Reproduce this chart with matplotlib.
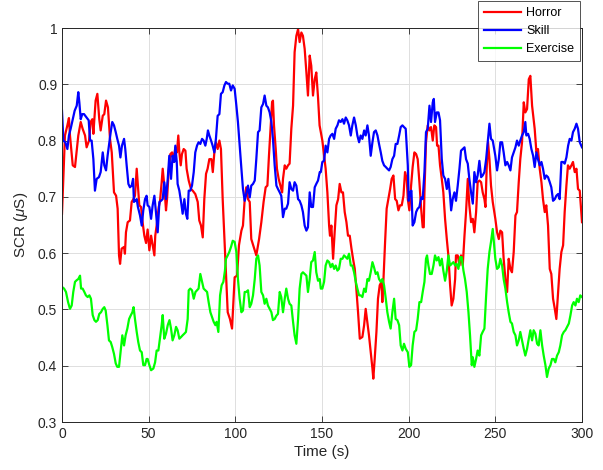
import numpy as np
import matplotlib
matplotlib.use("Agg")
import matplotlib.pyplot as plt

# (time s, SCR uS)
horror = [
    (0.0, 0.670), (1.2, 0.767), (1.7, 0.809), (3.1, 0.827), (4.0, 0.840), (4.6, 0.809), (6.2, 0.756),
    (7.5, 0.753), (9.4, 0.809), (10.8, 0.833), (11.9, 0.821), (13.3, 0.809), (14.2, 0.788), (15.6, 0.800),
    (16.5, 0.833), (17.5, 0.838), (18.1, 0.812), (19.4, 0.871), (20.4, 0.883), (21.5, 0.838), (22.3, 0.818),
    (23.5, 0.844), (24.4, 0.847), (25.4, 0.871), (26.5, 0.859), (27.7, 0.803), (28.7, 0.779), (30.0, 0.708),
    (31.2, 0.702), (32.1, 0.679), (32.9, 0.596), (33.5, 0.581), (34.4, 0.608), (35.8, 0.611), (36.3, 0.599),
    (36.9, 0.637), (37.9, 0.655), (39.2, 0.658), (40.2, 0.691), (41.2, 0.696), (42.1, 0.702), (43.1, 0.750),
    (43.8, 0.720), (44.6, 0.685), (45.6, 0.682), (46.5, 0.655), (47.5, 0.631), (48.5, 0.618), (49.4, 0.642),
    (50.4, 0.605), (51.4, 0.631), (52.3, 0.614), (53.3, 0.596), (53.8, 0.631), (54.6, 0.649), (55.8, 0.682),
    (56.5, 0.691), (57.5, 0.726), (58.1, 0.750), (59.0, 0.720), (60.0, 0.676), (60.6, 0.696), (61.5, 0.744),
    (62.5, 0.776), (63.5, 0.779), (64.2, 0.762), (65.4, 0.788), (66.3, 0.779), (67.1, 0.809), (67.7, 0.779),
    (68.5, 0.756), (69.2, 0.776), (70.2, 0.785), (71.2, 0.782), (71.9, 0.750), (73.1, 0.729), (74.4, 0.714),
    (75.4, 0.711), (76.9, 0.705), (78.3, 0.691), (79.2, 0.658), (80.2, 0.649), (81.2, 0.628), (82.1, 0.696),
    (83.1, 0.741), (84.0, 0.750), (85.0, 0.767), (86.2, 0.767), (87.0, 0.744), (87.9, 0.779), (88.8, 0.797),
    (89.8, 0.785), (90.8, 0.800), (91.7, 0.785), (92.7, 0.696), (94.2, 0.590), (95.6, 0.495), (96.9, 0.483),
    (98.1, 0.466), (99.6, 0.557), (101.0, 0.560), (102.1, 0.614), (103.5, 0.640), (104.4, 0.649), (105.4, 0.696),
    (106.3, 0.717), (107.3, 0.696), (108.3, 0.691), (109.2, 0.625), (110.6, 0.611), (112.1, 0.596), (113.7, 0.625),
    (115.0, 0.655), (116.3, 0.691), (117.5, 0.717), (118.5, 0.720), (119.4, 0.773), (120.4, 0.827), (121.2, 0.868),
    (121.7, 0.871), (122.3, 0.827), (123.3, 0.785), (124.0, 0.750), (125.0, 0.732), (126.0, 0.720), (127.0, 0.708),
    (127.5, 0.732), (128.5, 0.756), (129.4, 0.750), (130.4, 0.756), (131.3, 0.759), (132.3, 0.821), (133.3, 0.862),
    (134.2, 0.957), (135.2, 0.986), (136.2, 0.998), (137.1, 0.975), (138.1, 0.992), (139.0, 0.986), (140.0, 0.963),
    (141.0, 0.921), (141.9, 0.880), (142.9, 0.951), (143.8, 0.933), (144.8, 0.880), (145.8, 0.909), (146.7, 0.921),
    (147.7, 0.877), (148.6, 0.827), (149.3, 0.815), (150.2, 0.800), (151.2, 0.773), (152.1, 0.750), (153.1, 0.708),
    (154.1, 0.649), (154.6, 0.631), (155.4, 0.649), (156.4, 0.590), (157.3, 0.637), (158.3, 0.685), (159.3, 0.696),
    (160.2, 0.723), (161.2, 0.708), (162.1, 0.708), (163.1, 0.673), (164.1, 0.655), (165.0, 0.631), (166.0, 0.631),
    (167.0, 0.608), (167.9, 0.590), (168.9, 0.572), (169.8, 0.537), (170.8, 0.495), (171.8, 0.448), (173.3, 0.451),
    (174.3, 0.472), (175.2, 0.501), (176.2, 0.477), (177.1, 0.454), (178.1, 0.424), (179.1, 0.395), (179.6, 0.377),
    (180.4, 0.412), (181.4, 0.460), (182.3, 0.519), (183.3, 0.543), (184.3, 0.549), (184.8, 0.513), (185.4, 0.549),
    (186.4, 0.620), (187.3, 0.679), (188.3, 0.696), (189.3, 0.714), (190.2, 0.732), (191.2, 0.738), (192.2, 0.696),
    (193.1, 0.693), (194.1, 0.676), (195.0, 0.685), (196.0, 0.685), (197.0, 0.702), (197.9, 0.744), (198.9, 0.732),
    (199.5, 0.696), (200.4, 0.676), (201.4, 0.720), (202.3, 0.753), (203.3, 0.779), (204.3, 0.776), (205.2, 0.767),
    (206.2, 0.726), (207.2, 0.679), (208.1, 0.646), (208.7, 0.646), (209.1, 0.708), (210.0, 0.797), (211.0, 0.827),
    (212.0, 0.818), (212.9, 0.824), (213.9, 0.800), (214.8, 0.827), (215.8, 0.824), (216.4, 0.791), (217.2, 0.791),
    (218.1, 0.756), (219.1, 0.732), (220.0, 0.708), (221.0, 0.661), (222.0, 0.625), (222.9, 0.596), (223.9, 0.543),
    (224.8, 0.507), (225.8, 0.519), (226.8, 0.554), (227.3, 0.596), (228.3, 0.596), (229.3, 0.578), (230.2, 0.596),
    (231.2, 0.578), (232.2, 0.631), (233.1, 0.673), (234.1, 0.732), (235.0, 0.685), (236.0, 0.655), (237.0, 0.661),
    (237.9, 0.637), (238.9, 0.673), (239.8, 0.726), (240.8, 0.729), (241.8, 0.726), (242.7, 0.708), (243.7, 0.696),
    (244.3, 0.682), (245.0, 0.750), (245.8, 0.797), (246.6, 0.767), (247.5, 0.720), (248.5, 0.691), (250.0, 0.661),
    (251.0, 0.637), (252.0, 0.625), (252.9, 0.640), (253.9, 0.637), (254.8, 0.590), (255.8, 0.554), (256.8, 0.531),
    (257.7, 0.590), (258.7, 0.572), (259.6, 0.566), (260.6, 0.602), (261.6, 0.667), (262.5, 0.673), (263.5, 0.726),
    (264.4, 0.767), (265.4, 0.797), (266.4, 0.868), (267.3, 0.850), (268.3, 0.856), (269.3, 0.909), (270.2, 0.915),
    (271.2, 0.862), (272.1, 0.838), (272.7, 0.821), (273.7, 0.779), (274.6, 0.785), (275.6, 0.750), (276.6, 0.726),
    (277.5, 0.696), (278.5, 0.673), (279.4, 0.685), (280.4, 0.649), (281.4, 0.572), (282.3, 0.563), (283.3, 0.519),
    (284.3, 0.501), (285.2, 0.483), (286.2, 0.531), (287.1, 0.572), (288.1, 0.602), (289.1, 0.614), (290.0, 0.673),
    (291.0, 0.720), (291.9, 0.756), (292.9, 0.750), (293.9, 0.756), (294.8, 0.762), (295.8, 0.744), (296.8, 0.750),
    (297.7, 0.714), (298.7, 0.711), (300.0, 0.655),
]

skill = [
    (0.0, 0.853), (0.8, 0.800), (1.9, 0.797), (3.1, 0.785), (4.0, 0.809), (5.0, 0.821), (6.2, 0.838),
    (7.3, 0.853), (8.5, 0.862), (9.4, 0.886), (10.0, 0.868), (10.8, 0.838), (11.7, 0.847), (12.7, 0.847),
    (14.2, 0.841), (15.4, 0.836), (16.2, 0.800), (17.1, 0.800), (18.1, 0.767), (19.0, 0.711), (20.0, 0.732),
    (21.3, 0.735), (22.3, 0.744), (23.5, 0.779), (24.4, 0.756), (25.4, 0.747), (26.3, 0.773), (27.3, 0.797),
    (28.1, 0.815), (29.0, 0.833), (30.0, 0.827), (31.0, 0.815), (31.9, 0.803), (32.9, 0.791), (33.7, 0.770),
    (34.6, 0.791), (35.8, 0.803), (36.5, 0.785), (37.3, 0.756), (38.3, 0.723), (39.2, 0.717), (40.2, 0.720),
    (41.0, 0.732), (41.5, 0.691), (42.3, 0.693), (43.1, 0.696), (43.8, 0.682), (45.0, 0.667), (46.0, 0.649),
    (46.9, 0.676), (47.9, 0.696), (48.8, 0.702), (49.4, 0.685), (50.4, 0.682), (51.4, 0.661), (52.3, 0.685),
    (53.3, 0.702), (54.2, 0.673), (55.2, 0.637), (56.2, 0.691), (57.1, 0.693), (58.1, 0.696), (59.0, 0.726),
    (60.0, 0.696), (61.0, 0.732), (61.9, 0.773), (62.9, 0.732), (63.8, 0.773), (64.8, 0.762), (65.4, 0.791),
    (66.2, 0.762), (66.7, 0.723), (67.7, 0.711), (68.7, 0.691), (69.6, 0.670), (70.6, 0.696), (71.5, 0.670),
    (72.3, 0.661), (73.1, 0.711), (74.0, 0.711), (75.0, 0.720), (76.0, 0.744), (76.9, 0.779), (77.9, 0.791),
    (78.8, 0.797), (79.8, 0.794), (80.8, 0.803), (81.7, 0.800), (82.7, 0.791), (83.5, 0.803), (84.2, 0.818),
    (85.0, 0.809), (86.0, 0.800), (86.9, 0.791), (87.9, 0.779), (88.8, 0.803), (89.8, 0.844), (90.8, 0.847),
    (91.7, 0.883), (92.7, 0.886), (93.7, 0.898), (94.6, 0.904), (95.6, 0.901), (96.5, 0.901), (97.5, 0.889),
    (98.5, 0.898), (99.6, 0.892), (100.6, 0.862), (101.5, 0.833), (102.5, 0.791), (103.5, 0.750), (104.4, 0.714),
    (105.4, 0.693), (106.3, 0.705), (107.3, 0.720), (108.3, 0.699), (109.2, 0.720), (110.2, 0.723), (111.2, 0.729),
    (112.1, 0.767), (113.1, 0.815), (114.0, 0.818), (115.0, 0.859), (116.0, 0.865), (116.9, 0.880), (117.9, 0.862),
    (118.8, 0.859), (119.8, 0.850), (120.8, 0.833), (121.7, 0.803), (122.7, 0.756), (123.7, 0.720), (124.6, 0.714),
    (125.6, 0.708), (126.5, 0.702), (127.5, 0.664), (128.5, 0.679), (129.4, 0.679), (130.4, 0.688), (131.3, 0.726),
    (132.3, 0.714), (133.3, 0.711), (134.2, 0.726), (135.2, 0.720), (136.2, 0.696), (137.1, 0.693), (138.1, 0.685),
    (139.0, 0.673), (140.0, 0.649), (141.0, 0.640), (141.9, 0.646), (142.9, 0.708), (143.8, 0.682), (144.8, 0.682),
    (145.8, 0.717), (146.7, 0.723), (147.7, 0.729), (148.7, 0.744), (149.3, 0.744), (150.2, 0.762), (151.2, 0.764),
    (152.1, 0.791), (153.1, 0.779), (154.1, 0.803), (155.0, 0.809), (156.0, 0.812), (157.0, 0.803), (157.9, 0.821),
    (158.9, 0.827), (159.8, 0.836), (160.8, 0.833), (161.8, 0.838), (162.7, 0.830), (163.7, 0.841), (164.6, 0.836),
    (165.6, 0.827), (166.6, 0.809), (167.5, 0.827), (168.5, 0.841), (169.5, 0.827), (170.4, 0.809), (171.4, 0.797),
    (172.3, 0.809), (173.3, 0.803), (174.3, 0.818), (175.2, 0.809), (176.2, 0.827), (177.1, 0.809), (178.1, 0.773),
    (179.1, 0.797), (180.0, 0.815), (181.0, 0.818), (182.0, 0.809), (182.9, 0.794), (183.9, 0.779), (184.8, 0.764),
    (185.8, 0.756), (186.8, 0.753), (187.7, 0.750), (188.7, 0.747), (189.6, 0.753), (190.6, 0.767), (191.6, 0.773),
    (192.5, 0.794), (193.5, 0.794), (194.5, 0.809), (195.4, 0.824), (196.4, 0.827), (197.3, 0.824), (198.3, 0.821),
    (199.5, 0.756), (200.0, 0.693), (200.8, 0.708), (201.6, 0.711), (202.3, 0.649), (203.3, 0.655), (204.3, 0.673),
    (205.2, 0.679), (206.2, 0.682), (207.2, 0.699), (208.1, 0.696), (209.1, 0.744), (210.0, 0.815), (211.0, 0.821),
    (212.0, 0.862), (212.9, 0.833), (213.9, 0.868), (214.5, 0.874), (215.2, 0.833), (216.2, 0.850), (217.2, 0.850),
    (218.1, 0.836), (219.1, 0.767), (220.0, 0.738), (221.0, 0.732), (222.0, 0.714), (222.9, 0.732), (223.9, 0.702),
    (224.5, 0.676), (225.4, 0.696), (226.4, 0.708), (227.3, 0.693), (228.3, 0.720), (229.3, 0.750), (230.2, 0.782),
    (231.2, 0.785), (232.2, 0.788), (233.1, 0.767), (234.1, 0.759), (235.0, 0.732), (236.0, 0.708), (237.0, 0.688),
    (237.9, 0.744), (238.9, 0.726), (239.8, 0.738), (240.8, 0.764), (241.8, 0.735), (242.7, 0.738), (243.7, 0.744),
    (244.7, 0.767), (245.6, 0.797), (246.6, 0.830), (247.5, 0.803), (248.5, 0.800), (250.0, 0.773), (251.0, 0.747),
    (252.0, 0.767), (252.9, 0.797), (253.9, 0.797), (254.8, 0.779), (255.8, 0.756), (256.8, 0.762), (257.7, 0.756),
    (258.7, 0.747), (259.6, 0.770), (260.6, 0.779), (261.6, 0.788), (262.5, 0.800), (263.5, 0.791), (264.4, 0.800),
    (265.4, 0.809), (266.4, 0.815), (267.3, 0.833), (267.9, 0.809), (268.9, 0.812), (269.8, 0.803), (270.8, 0.785),
    (271.8, 0.773), (272.7, 0.753), (273.7, 0.779), (274.6, 0.767), (275.6, 0.756), (276.6, 0.762), (277.5, 0.750),
    (278.5, 0.732), (279.4, 0.738), (280.4, 0.735), (281.4, 0.726), (282.3, 0.717), (283.3, 0.693), (284.3, 0.696),
    (285.2, 0.702), (286.2, 0.705), (287.1, 0.696), (288.1, 0.762), (289.1, 0.762), (290.0, 0.759), (291.0, 0.770),
    (292.0, 0.791), (292.9, 0.803), (293.9, 0.800), (294.8, 0.815), (295.8, 0.821), (296.8, 0.830), (297.7, 0.821),
    (298.7, 0.797), (300.0, 0.788),
]

exercise = [
    (0.0, 0.540), (1.2, 0.537), (2.3, 0.531), (3.5, 0.513), (4.6, 0.501), (5.6, 0.507), (6.5, 0.531),
    (7.5, 0.549), (8.5, 0.552), (9.4, 0.554), (10.4, 0.560), (11.0, 0.537), (11.9, 0.537), (12.9, 0.531),
    (13.8, 0.525), (14.8, 0.522), (15.8, 0.525), (16.7, 0.519), (17.7, 0.490), (18.7, 0.481), (19.6, 0.478),
    (20.6, 0.481), (21.5, 0.492), (22.5, 0.495), (23.5, 0.501), (24.4, 0.504), (25.2, 0.498), (26.2, 0.472),
    (27.1, 0.445), (28.1, 0.442), (29.0, 0.433), (30.0, 0.421), (31.0, 0.404), (31.9, 0.398), (32.9, 0.398),
    (33.8, 0.424), (34.8, 0.454), (35.8, 0.436), (36.7, 0.454), (37.7, 0.466), (38.7, 0.483), (39.6, 0.489),
    (40.6, 0.495), (41.3, 0.504), (42.1, 0.483), (43.1, 0.460), (44.0, 0.442), (45.0, 0.427), (46.0, 0.424),
    (46.9, 0.401), (47.9, 0.401), (48.8, 0.412), (49.4, 0.412), (50.4, 0.401), (51.4, 0.392), (52.7, 0.395),
    (53.7, 0.406), (54.6, 0.427), (55.6, 0.427), (56.5, 0.448), (57.5, 0.472), (58.1, 0.490), (59.0, 0.448),
    (60.0, 0.457), (61.0, 0.472), (62.0, 0.481), (62.9, 0.466), (63.8, 0.445), (64.8, 0.454), (65.8, 0.469),
    (66.7, 0.463), (67.7, 0.448), (68.7, 0.451), (69.6, 0.454), (70.6, 0.457), (71.5, 0.460), (72.5, 0.483),
    (73.1, 0.534), (74.0, 0.537), (75.0, 0.534), (76.0, 0.519), (77.0, 0.531), (77.9, 0.534), (78.8, 0.537),
    (79.8, 0.563), (80.8, 0.549), (81.7, 0.537), (82.7, 0.534), (83.7, 0.531), (84.6, 0.513), (85.6, 0.495),
    (86.5, 0.487), (87.5, 0.478), (88.5, 0.472), (89.2, 0.478), (90.2, 0.460), (91.2, 0.525), (92.1, 0.543),
    (93.1, 0.549), (94.0, 0.569), (94.6, 0.590), (95.6, 0.596), (96.5, 0.602), (97.5, 0.611), (98.5, 0.622),
    (99.6, 0.620), (100.6, 0.602), (101.5, 0.554), (102.5, 0.519), (103.5, 0.495), (104.4, 0.498), (105.4, 0.531),
    (106.3, 0.531), (107.3, 0.534), (108.3, 0.504), (109.2, 0.510), (110.2, 0.525), (111.2, 0.554), (112.1, 0.590),
    (113.1, 0.596), (114.0, 0.578), (115.0, 0.531), (116.0, 0.525), (116.9, 0.510), (117.9, 0.519), (118.8, 0.507),
    (119.8, 0.501), (120.8, 0.495), (121.7, 0.481), (122.7, 0.483), (123.7, 0.489), (124.6, 0.492), (125.6, 0.531),
    (126.5, 0.522), (127.5, 0.495), (128.5, 0.519), (129.4, 0.537), (130.4, 0.519), (131.3, 0.510), (132.3, 0.507),
    (133.3, 0.478), (134.2, 0.454), (135.2, 0.439), (136.2, 0.483), (137.1, 0.537), (138.1, 0.563), (139.0, 0.566),
    (140.0, 0.563), (141.0, 0.560), (141.9, 0.531), (142.9, 0.554), (143.8, 0.584), (144.8, 0.587), (145.8, 0.602),
    (146.7, 0.566), (147.7, 0.551), (148.7, 0.554), (149.3, 0.537), (150.2, 0.537), (151.2, 0.549), (152.1, 0.578),
    (153.1, 0.587), (154.1, 0.584), (155.0, 0.575), (156.0, 0.581), (157.0, 0.572), (157.9, 0.578), (158.9, 0.569),
    (159.8, 0.572), (160.8, 0.590), (161.8, 0.590), (162.7, 0.596), (163.7, 0.593), (164.6, 0.590), (165.6, 0.599),
    (166.6, 0.578), (167.5, 0.578), (168.5, 0.566), (169.5, 0.549), (170.4, 0.537), (171.4, 0.525), (172.3, 0.525),
    (173.3, 0.522), (174.3, 0.537), (175.2, 0.531), (176.2, 0.554), (177.1, 0.551), (178.1, 0.566), (179.1, 0.584),
    (180.0, 0.575), (181.0, 0.563), (182.0, 0.566), (182.9, 0.554), (183.9, 0.549), (184.8, 0.554), (185.8, 0.543),
    (186.8, 0.519), (187.7, 0.495), (188.7, 0.478), (189.6, 0.466), (190.6, 0.495), (191.6, 0.519), (192.5, 0.483),
    (193.5, 0.481), (194.5, 0.472), (195.4, 0.436), (196.4, 0.427), (197.3, 0.439), (198.3, 0.430), (199.5, 0.424),
    (200.4, 0.398), (201.4, 0.401), (202.3, 0.436), (203.3, 0.460), (204.3, 0.463), (205.2, 0.483), (206.2, 0.513),
    (207.2, 0.513), (208.1, 0.531), (209.1, 0.549), (210.0, 0.590), (210.6, 0.596), (211.4, 0.578), (212.3, 0.563),
    (213.3, 0.563), (214.3, 0.578), (215.2, 0.596), (216.2, 0.587), (217.2, 0.593), (218.1, 0.578), (219.1, 0.590),
    (220.0, 0.569), (221.0, 0.551), (222.0, 0.569), (222.9, 0.596), (223.9, 0.578), (224.8, 0.581), (225.8, 0.584),
    (226.8, 0.578), (227.7, 0.581), (228.7, 0.572), (229.7, 0.593), (230.6, 0.593), (231.6, 0.569), (232.5, 0.554),
    (233.5, 0.531), (234.5, 0.495), (235.4, 0.454), (236.4, 0.401), (237.0, 0.415), (237.9, 0.398), (238.9, 0.412),
    (239.8, 0.427), (240.8, 0.418), (241.8, 0.454), (242.7, 0.460), (243.7, 0.466), (244.7, 0.525), (245.6, 0.572),
    (246.6, 0.602), (247.5, 0.620), (248.5, 0.643), (250.0, 0.590), (251.0, 0.572), (252.0, 0.575), (252.9, 0.590),
    (253.9, 0.578), (254.8, 0.554), (255.8, 0.537), (256.8, 0.513), (257.7, 0.495), (258.7, 0.478), (259.6, 0.475),
    (260.6, 0.460), (261.6, 0.454), (262.5, 0.436), (263.5, 0.445), (264.4, 0.460), (265.4, 0.445), (266.4, 0.430),
    (267.3, 0.418), (268.3, 0.430), (269.3, 0.448), (270.2, 0.463), (271.2, 0.445), (272.1, 0.463), (273.1, 0.457),
    (274.1, 0.439), (275.0, 0.436), (276.0, 0.463), (277.0, 0.436), (277.9, 0.418), (278.9, 0.401), (279.8, 0.380),
    (280.8, 0.395), (281.8, 0.401), (282.7, 0.412), (283.7, 0.412), (284.6, 0.406), (285.6, 0.418), (286.6, 0.424),
    (287.5, 0.436), (288.5, 0.454), (289.5, 0.460), (290.4, 0.463), (291.4, 0.469), (292.4, 0.475), (293.3, 0.489),
    (294.3, 0.507), (295.2, 0.513), (296.2, 0.507), (297.1, 0.519), (298.1, 0.513), (299.0, 0.525), (300.0, 0.522),
]

labels = ["Horror", "Skill", "Exercise"]
colors = ["#ff0000", "#0000ff", "#00ff00"]


def set_font():
    plt.rcParams["font.family"] = ["Liberation Sans", "DejaVu Sans"]
    plt.rcParams["font.size"] = 10
    plt.rcParams["mathtext.fontset"] = "custom"
    plt.rcParams["mathtext.it"] = "Liberation Sans:italic"


def main():
    set_font()
    fig = plt.figure(figsize=(6.03, 4.70), dpi=100)
    ax = fig.add_axes([62 / 603, 48 / 470, 520 / 603, 394 / 470])

    for series, name, c in zip([horror, skill, exercise], labels, colors):
        t, v = np.array(series).T
        ax.plot(t, v, '-', color=c, lw=1.6, label=name)

    ax.set_xlim(0, 300)
    ax.set_ylim(0.3, 1.0)
    ax.set_xticks(np.arange(0, 301, 50))
    ax.set_yticks(np.arange(0.3, 1.01, 0.1))
    ax.set_yticklabels(["0.3", "0.4", "0.5", "0.6", "0.7", "0.8", "0.9", "1"])

    ax.grid(True, color="#dedede", lw=0.7)
    ax.set_axisbelow(True)
    ax.tick_params(direction="in", length=4, width=0.6, colors="#262626",
                   top=True, right=True, labelsize=10)
    for sp in ax.spines.values():
        sp.set_color("#262626")
        sp.set_linewidth(0.7)

    ax.set_xlabel("Time (s)", fontsize=11, color="#262626", labelpad=3)
    ax.set_ylabel(r"SCR ($\mu$S)", fontsize=11, color="#262626", labelpad=6)

    leg = ax.legend(loc="upper right", bbox_to_anchor=(581 / 603, 1.0), bbox_transform=fig.transFigure,
                    fontsize=9, frameon=True, fancybox=False, edgecolor="#262626",
                    handlelength=3.0, borderpad=0.45, labelspacing=0.5, handletextpad=0.4,
                    borderaxespad=0.1)
    leg.get_frame().set_linewidth(0.7)

    plt.savefig("out.png", dpi=100)


if __name__ == "__main__":
    main()
